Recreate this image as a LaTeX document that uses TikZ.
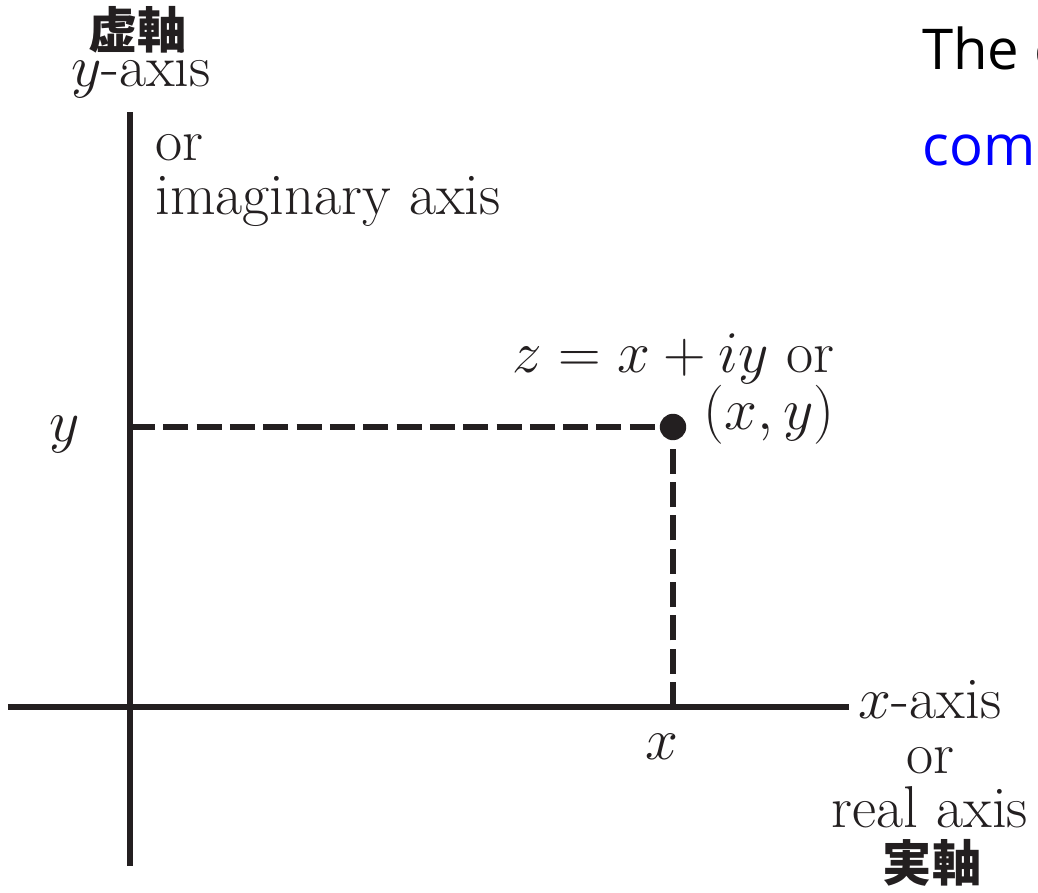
\RequirePackage{fix-cm}
\documentclass[tikz,border=0pt]{standalone}
\usepackage{fontspec}
\newfontfamily\cjkfont{Noto Sans CJK JP}
\newfontfamily\slidefont{Open Sans}
\usetikzlibrary{positioning}
\definecolor{axc}{HTML}{231F20}
\definecolor{linkblue}{HTML}{0000FF}

\begin{document}
\begin{tikzpicture}[
  axis/.style={line width=4.3pt, draw=axc},
  guide/.style={line width=4.3pt, draw=axc, dash pattern=on 17.8pt off 5.9pt},
  pt/.style={circle, fill=axc, inner sep=0pt, minimum size=0.66cm},
  lab/.style={font=\fontsize{42}{39}\selectfont, text=axc, inner sep=0pt},
  cjk/.style={font=\cjkfont\bfseries\fontsize{35}{36}\selectfont, text=axc, inner sep=0pt},
  slide/.style={font=\slidefont\fontsize{40}{42}\selectfont, inner sep=0pt, anchor=base west}]
\useasboundingbox (-3.25,-4.65) rectangle (22.7,17.675);
\clip (-3.25,-4.65) rectangle (22.7,17.675);
% axes
\coordinate (O)  at (0,0);
\coordinate (xl) at (-3.05,0);
\coordinate (xr) at (17.975,0);
\coordinate (yb) at (0,-3.975);
\coordinate (yt) at (0,14.875);
\draw[axis] (xl) -- (xr);
\draw[axis] (yb) -- (yt);
% the point z
\node[pt] (P) at (13.575,7) {};
\draw[guide] (P -| O) -- (P.center);
\draw[guide] (P |- O) -- (P.center);
% labels (base = last line)
\node[lab, anchor=base] (ylab) at (-1.625,6.625) {$y$};
\node[lab, anchor=base] (xlab) at (13.3,-1.325) {$x$};
\node[lab, anchor=base] (yname) at (0.275,15.5) {$y$-axis};
\node[cjk, anchor=base] (ycjk) at (0.2,16.45) {虚軸};
\node[lab, anchor=base west, align=left] (imag) at (0.625,12.3) {or\\imaginary axis};
\node[lab, anchor=base east, align=right] (zlab) at (17.625,6.925) {$z = x + iy$ or\\$(x, y)$};
\node[lab, anchor=base, align=center] (real) at (20.0,-3.025) {$x$-axis\\or\\real axis};
\node[cjk, anchor=base] (xcjk) at (20.05,-4.375) {実軸};
% slide text, cut at the edge
\node[slide] (title) at (19.8,15.925) {The c};
\node[slide, text=linkblue] (sub) at (19.8,13.525) {comp};
\end{tikzpicture}
\end{document}
